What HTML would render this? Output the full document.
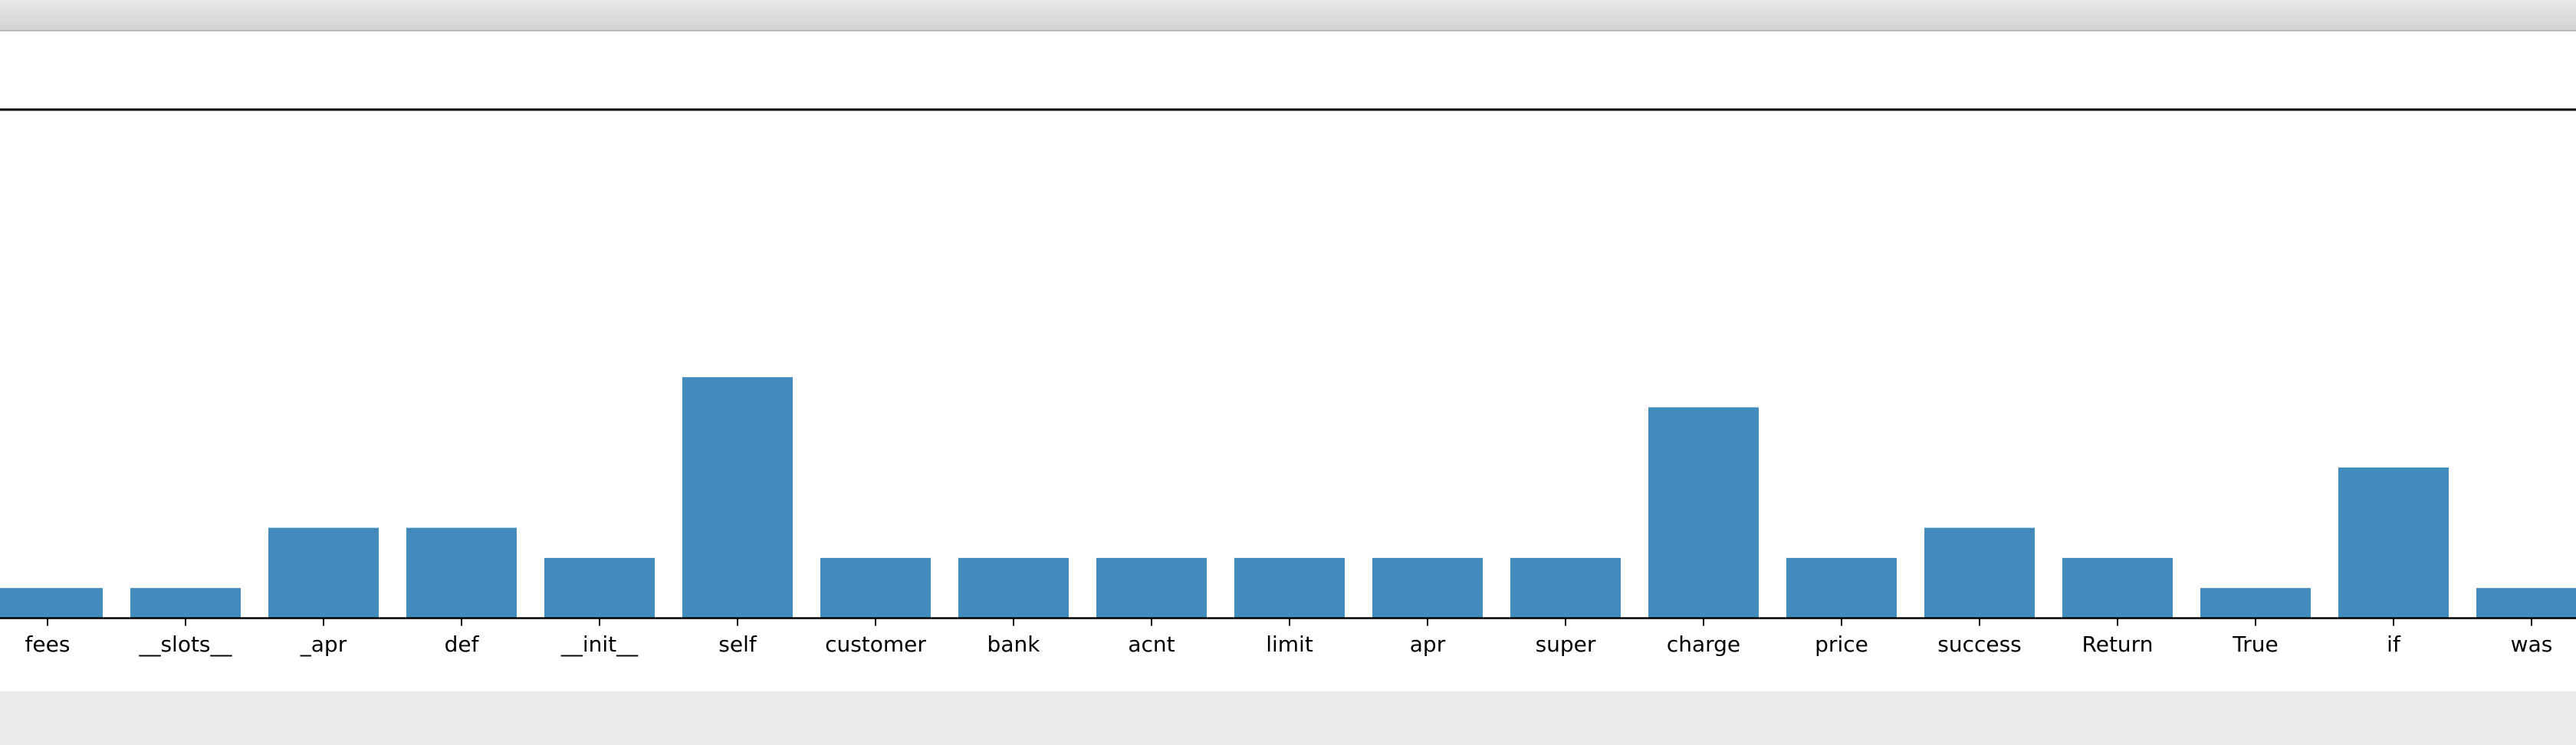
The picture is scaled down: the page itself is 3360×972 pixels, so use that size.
<!DOCTYPE html>
<html><head><meta charset="utf-8"><style>
html,body{margin:0;padding:0;background:#fff;}
body{width:3360px;height:972px;overflow:hidden;position:relative;font-family:"DejaVu Sans","Liberation Sans",sans-serif;}
#topbar{position:absolute;left:0;top:0;width:3360px;height:39px;background:linear-gradient(#e9e9e9,#d3d3d3);border-bottom:2px solid #bcbcbc;}
#bottombar{position:absolute;left:0;top:902px;width:3360px;height:70px;background:#ebebeb;}
svg{position:absolute;left:0;top:0;}
</style></head><body>
<div id="topbar"></div>
<div id="bottombar"></div>
<svg id="chart" width="3360" height="902"></svg>
<script>
const categories=["fees","__slots__","_apr","def","__init__","self","customer","bank","acnt","limit","apr","super","charge","price","success","Return","True","if","was"];
const values=[1,1,3,3,2,8,2,2,2,2,2,2,7,2,3,2,1,5,1];
const NS="http://www.w3.org/2000/svg";
const svgEl=document.getElementById('chart');
const x0=62,step=180,bw=144,baseY=806.5,unit=39.3;
function xScale(i){return x0+i*step;}
function yScale(v){return baseY-v*unit;}
function mk(tag,attrs){const e=document.createElementNS(NS,tag);for(const k in attrs)e.setAttribute(k,attrs[k]);svgEl.appendChild(e);return e;}
const topSpine=mk('line',{x1:0,x2:3360,y1:143,y2:143,stroke:'#000','stroke-width':3});


categories.forEach((c,i)=>{
  const cx=xScale(i);
  const r=mk('rect',{x:cx-bw/2,y:yScale(values[i]),width:bw,height:baseY-yScale(values[i]),fill:'#428bbd'});
  
  
  const t=mk('line',{x1:cx,x2:cx,y1:baseY,y2:baseY+10,stroke:'#000','stroke-width':2});
  
  
  const l=mk('text',{x:cx,y:850,'text-anchor':'middle','font-size':28,fill:'#000'});
  l.textContent=c;
  
  
});
const ax=mk('line',{x1:0,x2:3360,y1:baseY,y2:baseY,stroke:'#000','stroke-width':2.5});


</script>
</body></html>
